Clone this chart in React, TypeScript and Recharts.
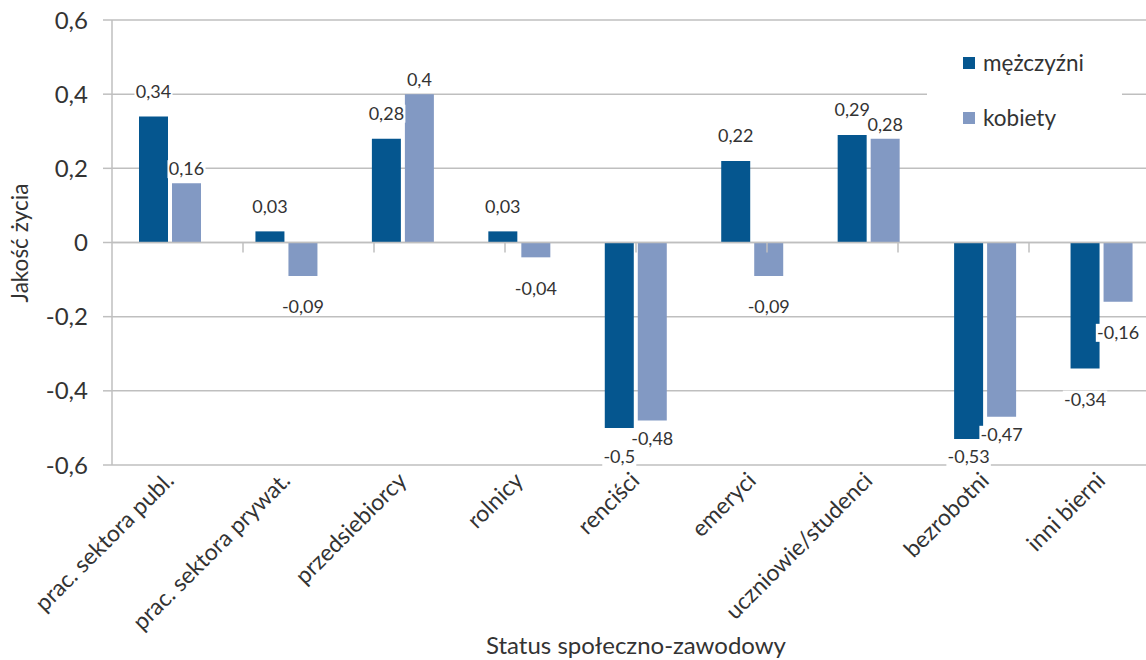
import React from "react";
import { BarChart, Bar, XAxis, YAxis, CartesianGrid, ReferenceLine, LabelList, Legend } from "recharts";

const categories = [
  "prac. sektora publ.",
  "prac. sektora prywat.",
  "przedsiebiorcy",
  "rolnicy",
  "renciści",
  "emeryci",
  "uczniowie/studenci",
  "bezrobotni",
  "inni bierni",
];
const mezczyzni = [0.34, 0.03, 0.28, 0.03, -0.5, 0.22, 0.29, -0.53, -0.34];
const kobiety = [0.16, -0.09, 0.4, -0.04, -0.48, -0.09, 0.28, -0.47, -0.16];
const seriesNames = ["mężczyźni", "kobiety"];
const yTicks = [-0.6, -0.4, -0.2, 0, 0.2, 0.4, 0.6];
const categoryBoundaries = [1, 2, 3, 4, 5, 6, 7, 8];

const MALE = "#05568f";
const FEMALE = "#8299c3";
const GRID = "#bfbfbf";
const TEXT = "#333333";
const FONT = "Lato, 'Open Sans', sans-serif";

const data = categories.map((name, i) => ({ name, m: mezczyzni[i], k: kobiety[i] }));

const fmt = (v: number) => String(v).replace(".", ",");

// rough text width for the label backgrounds
const textWidth = (s: string, fs: number) =>
  s.split("").reduce((acc, c) => acc + (/[0-9]/.test(c) ? 0.58 : c === "," ? 0.26 : c === "-" ? 0.36 : 0.5), 0) * fs;

function makeLabel(posOffset: number, negOffset: number, nearBottom: (bottom: number) => number) {
  return (props: any) => {
    const x = Number(props.x);
    const y = Number(props.y);
    const w = Number(props.width);
    const h = Number(props.height);
    const value = Number(props.value);
    const top = Math.min(y, y + h);
    const bottom = Math.max(y, y + h);
    const cx = x + w / 2;
    let cy: number;
    if (value >= 0) cy = top - posOffset;
    else {
      cy = bottom + negOffset;
      if (cy > 440) cy = nearBottom(bottom);
    }
    const label = fmt(value);
    const fs = 18;
    const tw = textWidth(label, fs) + 2;
    return (
      <g>
        <rect x={cx - tw / 2} y={cy - fs / 2} width={tw} height={fs} fill="#fff" />
        <text x={cx} y={cy} dy="0.35em" textAnchor="middle" fontSize={fs} fontFamily={FONT} fill={TEXT}>
          {label}
        </text>
      </g>
    );
  };
}

const maleLabel = makeLabel(25, 31, () => 457);
const femaleLabel = makeLabel(14, 31, (bottom) => bottom + 18);

const CategoryTick = (props: any) => {
  const { x, y, payload } = props;
  const tx = Number(x) + 5;
  const ty = Number(y) + 17;
  return (
    <text
      x={tx}
      y={ty}
      transform={`rotate(-45 ${tx} ${ty})`}
      textAnchor="end"
      fontSize={23}
      fontFamily={FONT}
      fill={TEXT}
    >
      {payload.value}
    </text>
  );
};

const LegendBox = () => {
  const colors = [MALE, FEMALE];
  return (
    <div style={{ background: "#fff", width: 195, height: 110, position: "relative", fontFamily: FONT }}>
      {seriesNames.map((n, i) => (
        <div
          key={n}
          style={{
            position: "absolute",
            left: 36,
            top: 13 + i * 55,
            display: "flex",
            alignItems: "center",
            fontSize: 22.5,
            color: TEXT,
            lineHeight: "30px",
          }}
        >
          <span style={{ display: "inline-block", width: 12, height: 12, background: colors[i], marginRight: 8 }} />
          {n}
        </div>
      ))}
    </div>
  );
};

export default function App() {
  return (
    <div style={{ position: "absolute", left: 0, top: 0, width: 1146, height: 660, overflow: "hidden", background: "#fff" }}>
      <BarChart
        width={1170}
        height={660}
        data={data}
        margin={{ top: 20, right: 10, bottom: 0, left: 0 }}
        barSize={29}
        barGap={4}
      >
        <CartesianGrid xAxisId="cat" vertical={false} stroke={GRID} strokeWidth={1.5} />
        <XAxis
          xAxisId="cat"
          dataKey="name"
          interval={0}
          height={195}
          axisLine={false}
          tickLine={false}
          tickSize={0}
          tickMargin={0}
          tick={<CategoryTick />}
          label={{
            value: "Status społeczno-zawodowy",
            position: "insideBottom",
            offset: 6,
            fontSize: 24,
            fontFamily: FONT,
            fill: TEXT,
          }}
        />
        <XAxis xAxisId="num" type="number" domain={[0, 9]} hide />
        <YAxis
          width={112}
          domain={[-0.6, 0.6]}
          ticks={yTicks}
          tickFormatter={fmt}
          tickSize={9}
          tickMargin={15}
          axisLine={{ stroke: GRID, strokeWidth: 1.5 }}
          tickLine={{ stroke: GRID, strokeWidth: 1.5 }}
          tick={{ fill: TEXT, fontSize: 24, fontFamily: FONT }}
          label={{
            content: () => (
              <text
                x={20}
                y={243}
                transform="rotate(-90 20 243)"
                textAnchor="middle"
                dy="0.35em"
                fontSize={22.5}
                fontFamily={FONT}
                fill={TEXT}
              >
                Jakość życia
              </text>
            ),
          }}
        />
        <ReferenceLine xAxisId="cat" y={0} stroke={GRID} strokeWidth={1.5} />
        {categoryBoundaries.map((b) => (
          <ReferenceLine
            key={b}
            xAxisId="num"
            segment={[
              { x: b, y: 0 },
              { x: b, y: -0.027 },
            ]}
            stroke={GRID}
            strokeWidth={1.5}
          />
        ))}
        <Legend
          layout="horizontal"
          verticalAlign="middle"
          align="center"
          wrapperStyle={{ left: 927, top: 35, width: 195, height: 110 }}
          content={<LegendBox />}
        />
        <Bar xAxisId="cat" dataKey="m" name={seriesNames[0]} fill={MALE} isAnimationActive={false}>
          <LabelList dataKey="m" content={maleLabel} />
        </Bar>
        <Bar xAxisId="cat" dataKey="k" name={seriesNames[1]} fill={FEMALE} isAnimationActive={false}>
          <LabelList dataKey="k" content={femaleLabel} />
        </Bar>
      </BarChart>
    </div>
  );
}
